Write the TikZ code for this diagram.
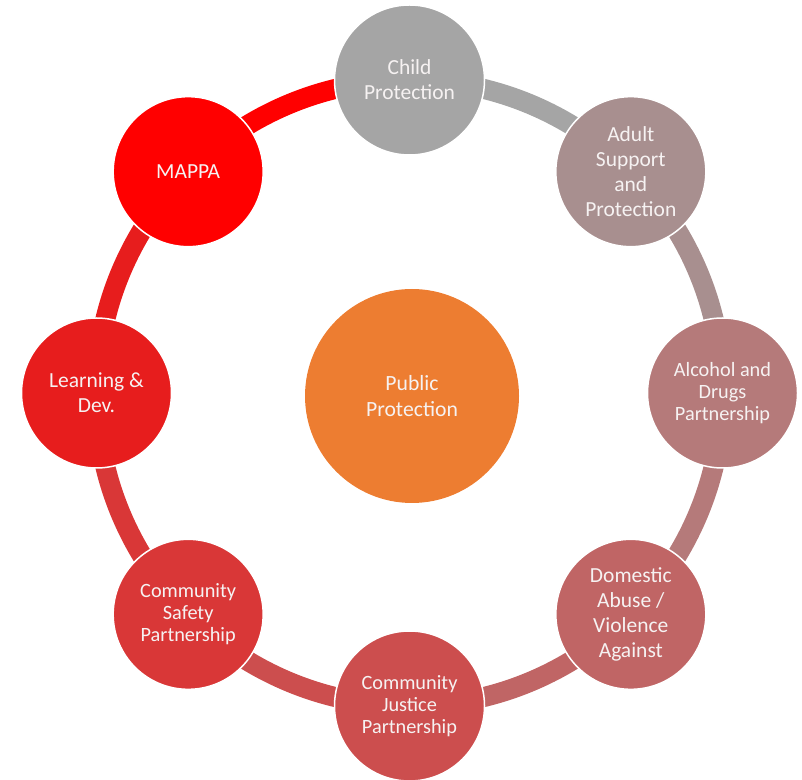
\documentclass[tikz,border=0pt]{standalone}
\usepackage{fontspec}
\setmainfont{Carlito}
\usetikzlibrary{backgrounds}
\definecolor{cChild}{RGB}{165,165,165}
\definecolor{cAdult}{RGB}{168,143,143}
\definecolor{cAlcohol}{RGB}{181,122,122}
\definecolor{cDomestic}{RGB}{192,101,101}
\definecolor{cJustice}{RGB}{204,78,78}
\definecolor{cSafety}{RGB}{217,55,55}
\definecolor{cLearning}{RGB}{231,29,29}
\definecolor{cMappa}{RGB}{255,0,0}
\definecolor{cPublic}{RGB}{237,125,49}
\definecolor{txt}{RGB}{246,242,242}
\begin{document}
\begin{tikzpicture}[x=1pt,y=1pt,
  hub/.style={circle, minimum size=150pt, inner sep=0pt, outer sep=0pt,
    draw=white, line width=1.5pt, text=txt, align=center,
    font=\fontsize{21.5}{25}\selectfont},
  small/.style={font=\fontsize{20.3}{22}\selectfont},
  ring/.style={line width=20pt}]
\useasboundingbox (0,0) rectangle (802,779);
\coordinate (O) at (409.5,386);
\node[hub, fill=cChild]    (child)    at ([shift={(90:313)}]O)  {Child\\Protection};
\node[hub, fill=cAdult]    (adult)    at ([shift={(45:313)}]O)  {Adult\\Support\\and\\Protection};
\node[hub, small, fill=cAlcohol]  (alcohol)  at ([shift={(0:313)}]O)   {Alcohol and\\Drugs\\Partnership};
\node[hub, fill=cDomestic] (domestic) at ([shift={(-45:313)}]O) {Domestic\\Abuse /\\Violence\\Against};
\node[hub, small, fill=cJustice]  (justice)  at ([shift={(-90:313)}]O) {Community\\Justice\\Partnership};
\node[hub, small, fill=cSafety]   (safety)   at ([shift={(-135:313)}]O) {Community\\Safety\\Partnership};
\node[hub, fill=cLearning] (learning) at ([shift={(180:313)}]O) {Learning \&\\Dev.};
\node[hub, fill=cMappa]    (mappa)    at ([shift={(135:313)}]O) {MAPPA};
\node[circle, minimum size=214pt, inner sep=0pt, fill=cPublic, text=txt, align=center,
  font=\fontsize{21.7}{26.5}\selectfont] (public) at (412,383) {Public\\Protection};
\begin{pgfonlayer}{background}
\draw[ring, cChild]    (child.center)    arc[start angle=90,  end angle=45,  radius=313pt];
\draw[ring, cAdult]    (adult.center)    arc[start angle=45,  end angle=0,   radius=313pt];
\draw[ring, cAlcohol]  (alcohol.center)  arc[start angle=0,   end angle=-45, radius=313pt];
\draw[ring, cDomestic] (domestic.center) arc[start angle=-45, end angle=-90, radius=313pt];
\draw[ring, cJustice]  (justice.center)  arc[start angle=270, end angle=225, radius=313pt];
\draw[ring, cSafety]   (safety.center)   arc[start angle=225, end angle=180, radius=313pt];
\draw[ring, cLearning] (learning.center) arc[start angle=180, end angle=135, radius=313pt];
\draw[ring, cMappa]    (mappa.center)    arc[start angle=135, end angle=90,  radius=313pt];
\end{pgfonlayer}
\end{tikzpicture}
\end{document}
